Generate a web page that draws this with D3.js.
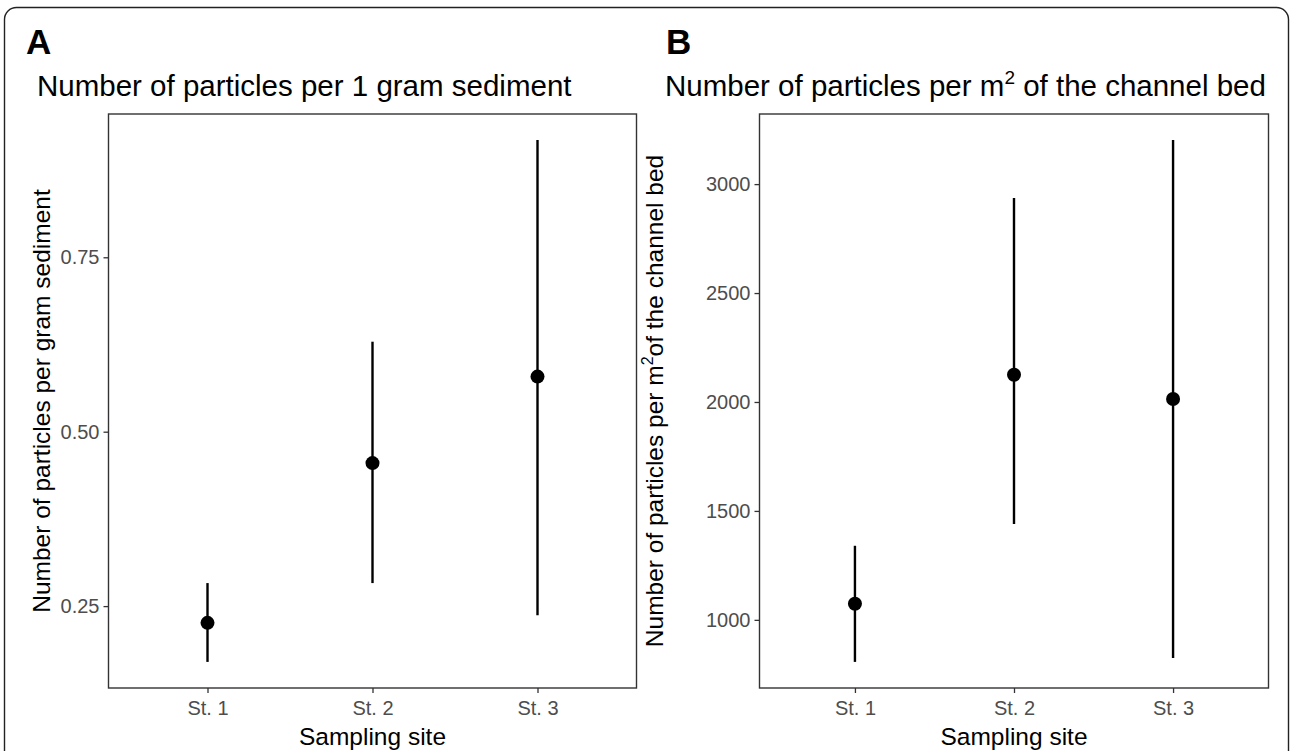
<!DOCTYPE html>
<html><head><meta charset="utf-8">
<script src="https://cdn.jsdelivr.net/npm/d3@7"></script>
<style>body{margin:0;background:#fff;} text{font-family:"Liberation Sans",Arial,sans-serif;}</style>
</head><body>
<svg id="chart" width="1290" height="751"></svg>
<script>
const sites = ["St. 1", "St. 2", "St. 3"];
const gramMean  = [0.226, 0.455, 0.579];
const gramLow   = [0.170, 0.283, 0.237];
const gramHigh  = [0.283, 0.629, 0.918];
const gramTicks = [0.25, 0.50, 0.75];
const areaMean  = [1074, 2125, 2014];
const areaLow   = [807, 1440, 825];
const areaHigh  = [1340, 2936, 3202];
const areaTicks = [1000, 1500, 2000, 2500, 3000];

const svg = d3.select("#chart");
svg.append("rect").attr("x",4.5).attr("y",7.5).attr("width",1284).attr("height",800)
  .attr("rx",12).attr("fill","none").attr("stroke","#222").attr("stroke-width",1.4);

function panel(opt){
  const {left,right,top,bottom,mean,low,high,ticks,fmt,letter,letterX,titleX,ytitleX,title,ytitle}=opt;
  const g = svg.append("g");
  const lo = d3.min(low), hi = d3.max(high), span = hi-lo;
  const y = d3.scaleLinear().domain([lo-0.05*span, hi+0.05*span]).range([bottom, top]);
  const x = d3.scalePoint().domain(sites).range([left, right]).padding(0.6);
  const ya = g.append("g").attr("transform",`translate(${left},0)`)
    .call(d3.axisLeft(y).tickValues(ticks).tickFormat(fmt).tickSizeOuter(0).tickSize(5).tickPadding(4));
  const xa = g.append("g").attr("transform",`translate(0,${bottom})`)
    .call(d3.axisBottom(x).tickSizeOuter(0).tickSize(5).tickPadding(8));
  [ya,xa].forEach(a=>{
    a.select(".domain").remove();
    a.selectAll(".tick line").attr("stroke","#333").attr("stroke-width",1.3);
    a.selectAll(".tick text").attr("fill","#4d4d4d").style("font-size","20px");
  });
  g.append("rect").attr("x",left).attr("y",top).attr("width",right-left).attr("height",bottom-top)
    .attr("fill","none").attr("stroke","#333").attr("stroke-width",1.4);
  g.selectAll("line.err").data(sites).join("line").attr("class","err")
    .attr("x1",d=>x(d)).attr("x2",d=>x(d))
    .attr("y1",(d,i)=>y(low[i])).attr("y2",(d,i)=>y(high[i]))
    .attr("stroke","#000").attr("stroke-width",2.4);
  g.selectAll("circle").data(sites).join("circle")
    .attr("cx",d=>x(d)).attr("cy",(d,i)=>y(mean[i])).attr("r",7).attr("fill","#000");
  g.append("text").attr("x",letterX).attr("y",54).text(letter)
    .style("font-size","35px").style("font-weight","bold");
  const t = g.append("text").attr("x",titleX).attr("y",96).style("font-size","29.5px");
  title(t);
  g.append("text").attr("x",(left+right)/2).attr("y",745).attr("text-anchor","middle")
    .style("font-size","24.5px").text("Sampling site");
  const yt = g.append("text").attr("transform",`translate(${ytitleX},${(top+bottom)/2}) rotate(-90)`)
    .attr("text-anchor","middle").style("font-size","24.5px");
  ytitle(yt);
}

panel({left:108.5,right:636.5,top:114,bottom:688,mean:gramMean,low:gramLow,high:gramHigh,
  ticks:gramTicks,fmt:d3.format(".2f"),letter:"A",letterX:26,titleX:37,ytitleX:50,
  title:t=>t.text("Number of particles per 1 gram sediment"),
  ytitle:t=>t.text("Number of particles per gram sediment")});

panel({left:759.5,right:1268.5,top:114,bottom:688,mean:areaMean,low:areaLow,high:areaHigh,
  ticks:areaTicks,fmt:d3.format("d"),letter:"B",letterX:666,titleX:665,ytitleX:663,
  title:t=>{t.append("tspan").text("Number of particles per m");
    t.append("tspan").attr("dy",-12).style("font-size","19px").text("2");
    t.append("tspan").attr("dy",12).text(" of the channel bed");},
  ytitle:t=>{t.append("tspan").text("Number of particles per m");
    t.append("tspan").attr("dy",-10).style("font-size","16px").text("2");
    t.append("tspan").attr("dy",10).text("of the channel bed");}});
</script>
</body></html>
